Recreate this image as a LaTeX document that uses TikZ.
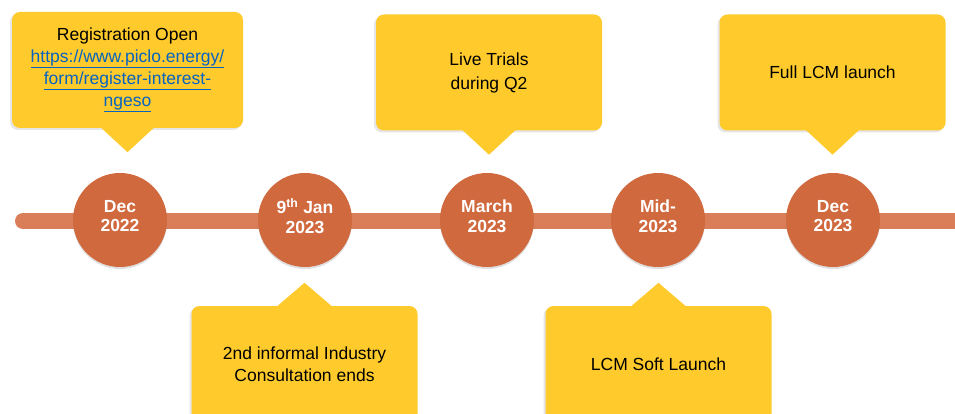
\documentclass[tikz,border=0pt]{standalone}
\usepackage{fontspec}
\setmainfont{Liberation Sans}
\usetikzlibrary{positioning}
\usetikzlibrary{shadows}
\definecolor{gold}{RGB}{255,203,44}
\definecolor{rust}{RGB}{208,105,62}
\definecolor{rustlight}{RGB}{218,126,90}
\definecolor{linkblue}{RGB}{5,99,193}
\tikzset{milestone/.style = {circle, fill = rust, minimum size = 94pt, inner sep = 0, text = white,
    font = \bfseries\fontsize{17.5}{19.5}\selectfont, align = center, text depth = 8pt,
    drop shadow = {shadow xshift = 0pt, shadow yshift = -2pt, opacity = 0.25}}}
\tikzset{callbox/.style = {fill = gold, rounded corners = 8pt, minimum width = 226pt, minimum height = 116pt,
    align = center, font = \fontsize{17.5}{22}\selectfont,
    drop shadow = {shadow xshift = -2pt, shadow yshift = -2pt, opacity = 0.2}}}
\tikzset{bar/.style = {rustlight, line width = 16pt, line cap = round}}
\newcommand{\weblink}[1]{\textcolor{linkblue}{\underline{#1}}}

\begin{document}
\begin{tikzpicture}[x = 1pt, y = -1pt]
      \clip (0, 0) rectangle (955, 414);
      \coordinate (barstart) at (23, 221);
      \coordinate (barend) at (980, 221);
      \draw [bar] (barstart) -- (barend);
      \node [milestone] (dec22) at (120, 220) {Dec\\2022};
      \node [milestone] (jan23) at (305, 220) {9\textsuperscript{th} Jan\\2023};
      \node [milestone] (mar23) at (487, 220) {March\\2023};
      \node [milestone] (mid23) at (658, 220) {Mid-\\2023};
      \node [milestone] (dec23) at (833, 220) {Dec\\2023};
      % callouts above the line
      \node [callbox, minimum width = 231pt] (regopen) at (127.5, 70) {Registration Open\\
        \weblink{https://www.piclo.energy/}\\ \weblink{form/register-interest-}\\ \weblink{ngeso}};
      \node [callbox, font = \fontsize{17.5}{24}\selectfont] (trials) at (489, 72.5) {Live Trials\\during Q2};
      \node [callbox] (fulllcm) at (832.5, 72.5) {Full LCM launch};
      % callouts below the line
      \node [callbox] (consult) at (304.5, 364) {2nd informal Industry\\Consultation ends};
      \node [callbox] (softlcm) at (658.5, 364) {LCM Soft Launch};
      \foreach \b in {regopen, trials, fulllcm} {
        \coordinate (\b-tip) at ([yshift = -24pt] \b.south);
        \fill [gold] ([xshift = -27pt, yshift = 1pt] \b.south) -- (\b-tip) -- ([xshift = 27pt, yshift = 1pt] \b.south) -- cycle;
      }
      \foreach \b in {consult, softlcm} {
        \coordinate (\b-tip) at ([yshift = 23pt] \b.north);
        \fill [gold] ([xshift = -28pt, yshift = -1pt] \b.north) -- (\b-tip) -- ([xshift = 28pt, yshift = -1pt] \b.north) -- cycle;
      }
    \end{tikzpicture}
\end{document}
